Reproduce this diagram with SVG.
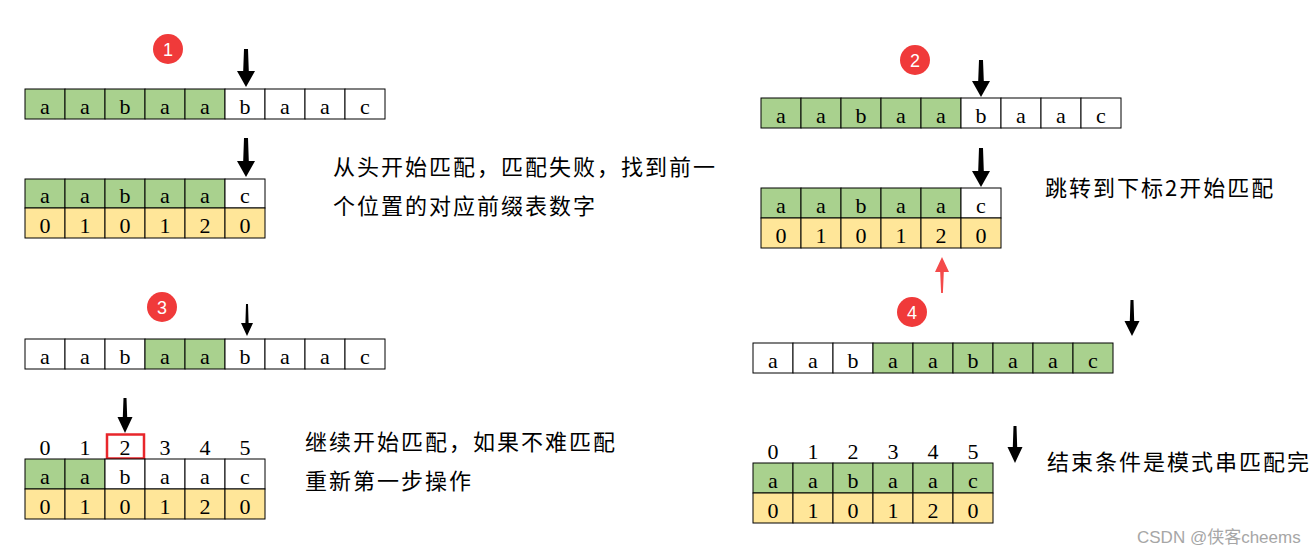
<svg xmlns="http://www.w3.org/2000/svg" width="1315" height="556" viewBox="0 0 1315 556">
<style>
.g{fill:#A9D18E;stroke:#000;stroke-width:1}
.w{fill:#FFFFFF;stroke:#000;stroke-width:1}
.y{fill:#FFE699;stroke:#000;stroke-width:1}
.t{font-family:"Liberation Serif","Times New Roman",serif;font-size:22px;text-anchor:middle;fill:#000}
.cn{font-family:"Noto Sans CJK SC","Microsoft YaHei",sans-serif;font-size:22px;letter-spacing:2px;fill:#000}
.badge{fill:#F03A3A}
.bn{font-family:"Liberation Sans",Arial,sans-serif;font-size:18px;fill:#fff;text-anchor:middle}
.ar{fill:#000}
.ra{fill:#F44A4A}
.wm{font-family:"Liberation Sans","Noto Sans CJK SC",sans-serif;font-size:17px;fill:#A6A6A6}
</style>
<rect width="1315" height="556" fill="#fff"/>

<g id="step1">
  <circle class="badge" cx="168" cy="49" r="15"/><text class="bn" x="168" y="55.5">1</text>
  <g id="s1-text-row">
    <rect class="g" x="25" y="89" width="40" height="30"/><rect class="g" x="65" y="89" width="40" height="30"/><rect class="g" x="105" y="89" width="40" height="30"/><rect class="g" x="145" y="89" width="40" height="30"/><rect class="g" x="185" y="89" width="40" height="30"/><rect class="w" x="225" y="89" width="40" height="30"/><rect class="w" x="265" y="89" width="40" height="30"/><rect class="w" x="305" y="89" width="40" height="30"/><rect class="w" x="345" y="89" width="40" height="30"/>
    <text class="t" y="114"><tspan x="45">a</tspan><tspan x="85">a</tspan><tspan x="125">b</tspan><tspan x="165">a</tspan><tspan x="205">a</tspan><tspan x="245">b</tspan><tspan x="285">a</tspan><tspan x="325">a</tspan><tspan x="365">c</tspan></text>
  </g>
  <g id="s1-pattern">
    <rect class="g" x="25" y="179" width="40" height="29"/><rect class="g" x="65" y="179" width="40" height="29"/><rect class="g" x="105" y="179" width="40" height="29"/><rect class="g" x="145" y="179" width="40" height="29"/><rect class="g" x="185" y="179" width="40" height="29"/><rect class="w" x="225" y="179" width="40" height="29"/>
    <rect class="y" x="25" y="208" width="40" height="30"/><rect class="y" x="65" y="208" width="40" height="30"/><rect class="y" x="105" y="208" width="40" height="30"/><rect class="y" x="145" y="208" width="40" height="30"/><rect class="y" x="185" y="208" width="40" height="30"/><rect class="y" x="225" y="208" width="40" height="30"/>
    <text class="t" y="203"><tspan x="45">a</tspan><tspan x="85">a</tspan><tspan x="125">b</tspan><tspan x="165">a</tspan><tspan x="205">a</tspan><tspan x="245">c</tspan></text>
    <text class="t" y="233"><tspan x="45">0</tspan><tspan x="85">1</tspan><tspan x="125">0</tspan><tspan x="165">1</tspan><tspan x="205">2</tspan><tspan x="245">0</tspan></text>
  </g>
  <text class="cn" x="333" y="175">从头开始匹配，匹配失败，找到前一</text>
  <text class="cn" x="333" y="214">个位置的对应前缀表数字</text>
</g>

<g id="step2">
  <circle class="badge" cx="915" cy="60" r="15"/><text class="bn" x="915" y="66.5">2</text>
  <g id="s2-text-row">
    <rect class="g" x="761" y="98" width="40" height="30"/><rect class="g" x="801" y="98" width="40" height="30"/><rect class="g" x="841" y="98" width="40" height="30"/><rect class="g" x="881" y="98" width="40" height="30"/><rect class="g" x="921" y="98" width="40" height="30"/><rect class="w" x="961" y="98" width="40" height="30"/><rect class="w" x="1001" y="98" width="40" height="30"/><rect class="w" x="1041" y="98" width="40" height="30"/><rect class="w" x="1081" y="98" width="40" height="30"/>
    <text class="t" y="123"><tspan x="781">a</tspan><tspan x="821">a</tspan><tspan x="861">b</tspan><tspan x="901">a</tspan><tspan x="941">a</tspan><tspan x="981">b</tspan><tspan x="1021">a</tspan><tspan x="1061">a</tspan><tspan x="1101">c</tspan></text>
  </g>
  <g id="s2-pattern">
    <rect class="g" x="761" y="188" width="40" height="30"/><rect class="g" x="801" y="188" width="40" height="30"/><rect class="g" x="841" y="188" width="40" height="30"/><rect class="g" x="881" y="188" width="40" height="30"/><rect class="g" x="921" y="188" width="40" height="30"/><rect class="w" x="961" y="188" width="40" height="30"/>
    <rect class="y" x="761" y="218" width="40" height="30"/><rect class="y" x="801" y="218" width="40" height="30"/><rect class="y" x="841" y="218" width="40" height="30"/><rect class="y" x="881" y="218" width="40" height="30"/><rect class="y" x="921" y="218" width="40" height="30"/><rect class="y" x="961" y="218" width="40" height="30"/>
    <text class="t" y="213"><tspan x="781">a</tspan><tspan x="821">a</tspan><tspan x="861">b</tspan><tspan x="901">a</tspan><tspan x="941">a</tspan><tspan x="981">c</tspan></text>
    <text class="t" y="243"><tspan x="781">0</tspan><tspan x="821">1</tspan><tspan x="861">0</tspan><tspan x="901">1</tspan><tspan x="941">2</tspan><tspan x="981">0</tspan></text>
  </g>
  <text class="cn" x="1045" y="196">跳转到下标2开始匹配</text>
</g>

<g id="step3">
  <circle class="badge" cx="162" cy="307" r="15"/><text class="bn" x="162" y="313.5">3</text>
  <g id="s3-text-row">
    <rect class="w" x="25" y="339" width="40" height="30"/><rect class="w" x="65" y="339" width="40" height="30"/><rect class="w" x="105" y="339" width="40" height="30"/><rect class="g" x="145" y="339" width="40" height="30"/><rect class="g" x="185" y="339" width="40" height="30"/><rect class="w" x="225" y="339" width="40" height="30"/><rect class="w" x="265" y="339" width="40" height="30"/><rect class="w" x="305" y="339" width="40" height="30"/><rect class="w" x="345" y="339" width="40" height="30"/>
    <text class="t" y="364"><tspan x="45">a</tspan><tspan x="85">a</tspan><tspan x="125">b</tspan><tspan x="165">a</tspan><tspan x="205">a</tspan><tspan x="245">b</tspan><tspan x="285">a</tspan><tspan x="325">a</tspan><tspan x="365">c</tspan></text>
  </g>
  <g id="s3-pattern">
    <text class="t" y="455"><tspan x="45">0</tspan><tspan x="85">1</tspan><tspan x="125">2</tspan><tspan x="165">3</tspan><tspan x="205">4</tspan><tspan x="245">5</tspan></text>
    <rect x="107" y="434.5" width="37" height="24" fill="none" stroke="#E8262B" stroke-width="2.5"/>
    <rect class="g" x="25" y="459" width="40" height="30"/><rect class="g" x="65" y="459" width="40" height="30"/><rect class="w" x="105" y="459" width="40" height="30"/><rect class="w" x="145" y="459" width="40" height="30"/><rect class="w" x="185" y="459" width="40" height="30"/><rect class="w" x="225" y="459" width="40" height="30"/>
    <rect class="y" x="25" y="489" width="40" height="30"/><rect class="y" x="65" y="489" width="40" height="30"/><rect class="y" x="105" y="489" width="40" height="30"/><rect class="y" x="145" y="489" width="40" height="30"/><rect class="y" x="185" y="489" width="40" height="30"/><rect class="y" x="225" y="489" width="40" height="30"/>
    <text class="t" y="484"><tspan x="45">a</tspan><tspan x="85">a</tspan><tspan x="125">b</tspan><tspan x="165">a</tspan><tspan x="205">a</tspan><tspan x="245">c</tspan></text>
    <text class="t" y="514"><tspan x="45">0</tspan><tspan x="85">1</tspan><tspan x="125">0</tspan><tspan x="165">1</tspan><tspan x="205">2</tspan><tspan x="245">0</tspan></text>
  </g>
  <text class="cn" x="305" y="450">继续开始匹配，如果不难匹配</text>
  <text class="cn" x="305" y="489">重新第一步操作</text>
</g>

<g id="step4">
  <circle class="badge" cx="912" cy="312" r="15"/><text class="bn" x="912" y="318.5">4</text>
  <g id="s4-text-row">
    <rect class="w" x="753" y="343" width="40" height="30"/><rect class="w" x="793" y="343" width="40" height="30"/><rect class="w" x="833" y="343" width="40" height="30"/><rect class="g" x="873" y="343" width="40" height="30"/><rect class="g" x="913" y="343" width="40" height="30"/><rect class="g" x="953" y="343" width="40" height="30"/><rect class="g" x="993" y="343" width="40" height="30"/><rect class="g" x="1033" y="343" width="40" height="30"/><rect class="g" x="1073" y="343" width="40" height="30"/>
    <text class="t" y="368"><tspan x="773">a</tspan><tspan x="813">a</tspan><tspan x="853">b</tspan><tspan x="893">a</tspan><tspan x="933">a</tspan><tspan x="973">b</tspan><tspan x="1013">a</tspan><tspan x="1053">a</tspan><tspan x="1093">c</tspan></text>
  </g>
  <g id="s4-pattern">
    <text class="t" y="459"><tspan x="773">0</tspan><tspan x="813">1</tspan><tspan x="853">2</tspan><tspan x="893">3</tspan><tspan x="933">4</tspan><tspan x="973">5</tspan></text>
    <rect class="g" x="753" y="463" width="40" height="30"/><rect class="g" x="793" y="463" width="40" height="30"/><rect class="g" x="833" y="463" width="40" height="30"/><rect class="g" x="873" y="463" width="40" height="30"/><rect class="g" x="913" y="463" width="40" height="30"/><rect class="g" x="953" y="463" width="40" height="30"/>
    <rect class="y" x="753" y="493" width="40" height="30"/><rect class="y" x="793" y="493" width="40" height="30"/><rect class="y" x="833" y="493" width="40" height="30"/><rect class="y" x="873" y="493" width="40" height="30"/><rect class="y" x="913" y="493" width="40" height="30"/><rect class="y" x="953" y="493" width="40" height="30"/>
    <text class="t" y="488"><tspan x="773">a</tspan><tspan x="813">a</tspan><tspan x="853">b</tspan><tspan x="893">a</tspan><tspan x="933">a</tspan><tspan x="973">c</tspan></text>
    <text class="t" y="518"><tspan x="773">0</tspan><tspan x="813">1</tspan><tspan x="853">0</tspan><tspan x="893">1</tspan><tspan x="933">2</tspan><tspan x="973">0</tspan></text>
  </g>
  <text class="cn" x="1047" y="470">结束条件是模式串匹配完</text>
</g>

<g id="connectors">
  <path class="ar" d="M244,49 L248,49 L248.8,71 L255,71 L246,87 L237,71 L243.2,71 Z"/>
  <path class="ar" d="M244,138 L248,138 L248.8,161 L255,161 L246,177 L237,161 L243.2,161 Z"/>
  <path class="ar" d="M979,60 L983,60 L983.8,81 L990,81 L981,97 L972,81 L978.2,81 Z"/>
  <path class="ar" d="M979,148 L983,148 L983.8,171 L990,171 L981,187 L972,171 L978.2,171 Z"/>
  <path class="ar" d="M246,304 L248,304 L248.6,323 L253,323 L247,336 L241,323 L245.4,323 Z"/>
  <path class="ar" d="M123.5,398 L126.5,398 L127.2,417 L132.5,417 L125,433 L117.5,417 L122.8,417 Z"/>
  <path class="ar" d="M1130.5,300 L1133.5,300 L1134.2,321 L1139.5,321 L1132,336 L1124.5,321 L1129.8,321 Z"/>
  <path class="ar" d="M1013.5,426 L1016.5,426 L1017.2,447 L1022.5,447 L1015,463 L1007.5,447 L1012.8,447 Z"/>
  <path class="ra" d="M942,257 L949,272 L943.8,272 L942.9,293 L941.1,293 L940.2,272 L935,272 Z"/>
</g>

<text class="wm" x="1137" y="543">CSDN @侠客cheems</text>
</svg>
